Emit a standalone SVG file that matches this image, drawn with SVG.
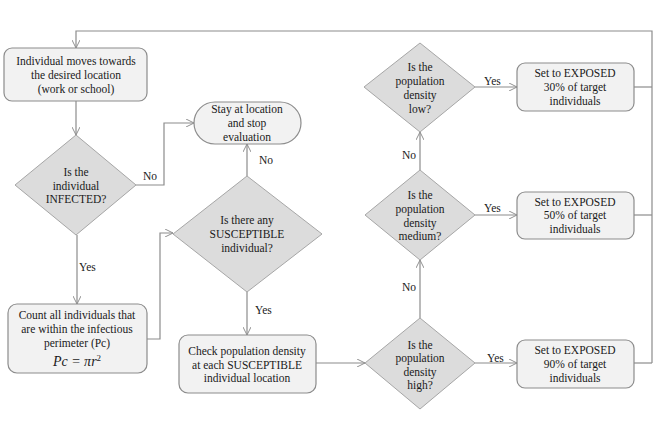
<svg xmlns="http://www.w3.org/2000/svg" width="663" height="421" viewBox="0 0 663 421">
<defs>
<marker id="arr" viewBox="0 0 10 10" refX="10" refY="5" markerWidth="8" markerHeight="8" orient="auto" markerUnits="userSpaceOnUse">
<path d="M0,0 L10,5 L0,10" fill="none" stroke="#8c8c8c" stroke-width="1.2"/>
</marker>
<style>
.box{fill:#f2f2f2;stroke:#8c8c8c;stroke-width:1.2}
.dia{fill:#dcdcdc;stroke:#a6a6a6;stroke-width:1}
.t{font-family:"Liberation Serif","Times New Roman",serif;font-size:11.5px;fill:#1a1a1a;text-anchor:middle}
.l{font-family:"Liberation Serif","Times New Roman",serif;font-size:11.5px;fill:#1a1a1a}
.c{fill:none;stroke:#8c8c8c;stroke-width:1.2}
</style>
</defs>
<rect width="663" height="421" fill="#ffffff"/>
<g id="connectors">
<path class="c" d="M652,363 L652,31 L76,31 L76,48" marker-end="url(#arr)"/>
<path class="c" d="M76,101 L76,135" marker-end="url(#arr)"/>
<path class="c" d="M136,185 L164,185 L164,123 L194,123" marker-end="url(#arr)"/>
<path class="c" d="M77,235 L77,304" marker-end="url(#arr)"/>
<path class="c" d="M147,339 L160,339 L160,233 L173,233" marker-end="url(#arr)"/>
<path class="c" d="M247,176 L247,144" marker-end="url(#arr)"/>
<path class="c" d="M247,292 L247,335" marker-end="url(#arr)"/>
<path class="c" d="M316,363 L365,363" marker-end="url(#arr)"/>
<path class="c" d="M475,363 L517,363" marker-end="url(#arr)"/>
<path class="c" d="M475,215 L517,215" marker-end="url(#arr)"/>
<path class="c" d="M475,87 L517,87" marker-end="url(#arr)"/>
<path class="c" d="M420,318 L420,260" marker-end="url(#arr)"/>
<path class="c" d="M420,170 L420,132" marker-end="url(#arr)"/>
<path class="c" d="M634,87 L652,87"/>
<path class="c" d="M634,215 L652,215"/>
<path class="c" d="M634,363 L652,363"/>
<text class="l" x="143" y="180">No</text>
<text class="l" x="259" y="164">No</text>
<text class="l" x="79" y="271">Yes</text>
<text class="l" x="255" y="314">Yes</text>
<text class="l" x="487" y="362">Yes</text>
<text class="l" x="484" y="212">Yes</text>
<text class="l" x="484" y="85">Yes</text>
<text class="l" x="402" y="291">No</text>
<text class="l" x="402" y="159">No</text>
</g>
<g id="n1">
<rect class="box" x="4" y="48" width="143" height="53" rx="8"/>
<text class="t" x="76" y="65">Individual moves towards</text>
<text class="t" x="76" y="79">the desired location</text>
<text class="t" x="76" y="93">(work or school)</text>
</g>
<g id="n2">
<rect class="box" x="194" y="102" width="107" height="42" rx="21"/>
<text class="t" x="247" y="113">Stay at location</text>
<text class="t" x="247" y="127">and stop</text>
<text class="t" x="247" y="141">evaluation</text>
</g>
<g id="n3">
<polygon class="dia" points="76,135 136,185 76,235 15,185"/>
<text class="t" x="76" y="176">Is the</text>
<text class="t" x="76" y="190">individual</text>
<text class="t" x="76" y="203">INFECTED?</text>
</g>
<g id="n4">
<polygon class="dia" points="247,176 322,234 247,292 173,234"/>
<text class="t" x="247" y="224">Is there any</text>
<text class="t" x="247" y="238">SUSCEPTIBLE</text>
<text class="t" x="247" y="252">individual?</text>
</g>
<g id="n5">
<rect class="box" x="8" y="304" width="139" height="69" rx="9"/>
<text class="t" x="77" y="319">Count all individuals that</text>
<text class="t" x="77" y="333">are within the infectious</text>
<text class="t" x="77" y="347">perimeter (Pc)</text>
<text class="t" x="77" y="366" style="font-size:14px;font-style:italic">Pc = πr<tspan dy="-5" font-size="9" font-style="normal">2</tspan></text>
</g>
<g id="n6">
<rect class="box" x="179" y="335" width="137" height="58" rx="9"/>
<text class="t" x="247" y="355">Check population density</text>
<text class="t" x="247" y="369">at each SUSCEPTIBLE</text>
<text class="t" x="247" y="382">individual location</text>
</g>
<g id="n7">
<polygon class="dia" points="420,318 475,363 420,409 365,363"/>
<text class="t" x="420" y="349">Is the</text>
<text class="t" x="420" y="362">population</text>
<text class="t" x="420" y="376">density</text>
<text class="t" x="420" y="389">high?</text>
</g>
<g id="n8">
<polygon class="dia" points="420,170 475,215 420,260 365,215"/>
<text class="t" x="420" y="199">Is the</text>
<text class="t" x="420" y="213">population</text>
<text class="t" x="420" y="227">density</text>
<text class="t" x="420" y="240">medium?</text>
</g>
<g id="n9">
<polygon class="dia" points="420,43 475,87 420,132 364,87"/>
<text class="t" x="420" y="71">Is the</text>
<text class="t" x="420" y="85">population</text>
<text class="t" x="420" y="99">density</text>
<text class="t" x="420" y="113">low?</text>
</g>
<g id="n10">
<rect class="box" x="517" y="63" width="117" height="48" rx="8"/>
<text class="t" x="575" y="77">Set to EXPOSED</text>
<text class="t" x="575" y="91">30% of  target</text>
<text class="t" x="575" y="105">individuals</text>
</g>
<g id="n11">
<rect class="box" x="517" y="192" width="117" height="47" rx="8"/>
<text class="t" x="575" y="206">Set to EXPOSED</text>
<text class="t" x="575" y="219">50% of  target</text>
<text class="t" x="575" y="233">individuals</text>
</g>
<g id="n12">
<rect class="box" x="517" y="340" width="117" height="48" rx="8"/>
<text class="t" x="575" y="354">Set to EXPOSED</text>
<text class="t" x="575" y="368">90% of  target</text>
<text class="t" x="575" y="382">individuals</text>
</g>
</svg>
